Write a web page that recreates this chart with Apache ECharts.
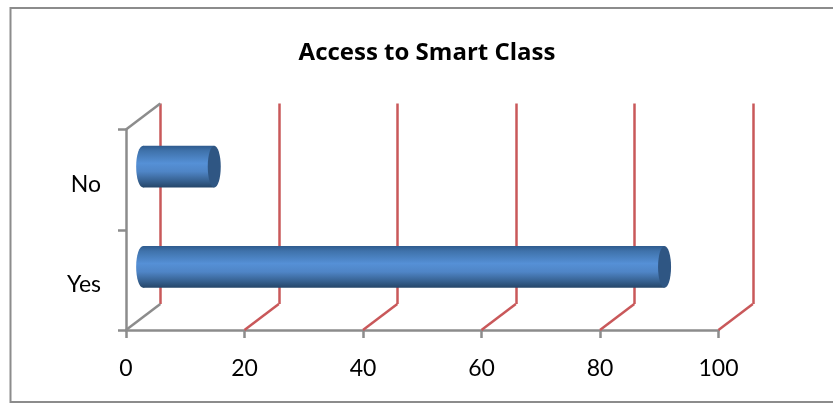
<!DOCTYPE html>
<html><head><meta charset="utf-8">
<style>html,body{margin:0;padding:0;background:#fff}#c{width:833px;height:406px}</style>
<script src="https://cdn.jsdelivr.net/npm/echarts@6/dist/echarts.min.js"></script>
</head><body><div id="c"></div>
<script>
const categories = ['Yes', 'No'];
const accessValues = [88, 12];
const xMin = 0, xMax = 100, xStep = 20;
const wallTicks = [0, 20, 40, 60, 80, 100];

const DX = 34.3, DY = -26;          // 3D depth offset
const front = {left:126, top:129.5, width:592.5, height:200.5};
const back  = {left:126+DX, top:129.5+DY, width:592.5, height:200.5};
const RED = '#c9585a', GRAY = '#8c8c8c';
const bodyGrad = {type:'linear',x:0,y:0,x2:0,y2:1,colorStops:[
  {offset:0,color:'#2f5b8e'},{offset:0.12,color:'#3f72ab'},{offset:0.42,color:'#5590d6'},
  {offset:0.62,color:'#4f85c6'},{offset:0.85,color:'#36608f'},{offset:1,color:'#254669'}]};

const xAxisBase = {type:'value',min:xMin,max:xMax,interval:xStep};
const chart = echarts.init(document.getElementById('c'),null,{renderer:'canvas'});
chart.setOption({
  animation:false,
  backgroundColor:'#fff',
  title:{text:'Access to Smart Class',left:422,top:36,textAlign:'center',
    textStyle:{fontFamily:'Open Sans',fontSize:24,fontWeight:'bold',color:'#000'}},
  graphic:[{type:'rect',z:-1,shape:{x:10.5,y:8,width:840,height:394},
    style:{fill:'#fff',stroke:'#8c8c8c',lineWidth:2}}],
  grid:[{...front},{...back}],
  xAxis:[
    {...xAxisBase,gridIndex:0,
      axisLine:{show:true,lineStyle:{color:GRAY,width:2.5}},
      axisTick:{show:true,length:8,lineStyle:{color:GRAY,width:2.5}},
      axisLabel:{show:true,margin:27,fontFamily:'Lato',fontSize:23,color:'#000',hideOverlap:false},
      splitLine:{show:false}},
    {...xAxisBase,gridIndex:1,axisLine:{show:false},axisTick:{show:false},axisLabel:{show:false},
      splitLine:{show:true,lineStyle:{color:RED,width:2.5}}}
  ],
  yAxis:[
    {type:'category',gridIndex:0,data:categories,
      axisLine:{show:true,lineStyle:{color:GRAY,width:2.5}},
      axisTick:{show:true,length:8,alignWithLabel:false,lineStyle:{color:GRAY,width:2.5}},
      axisLabel:{margin:25,formatter:'{t|{value}}',
        rich:{t:{fontFamily:'Lato',fontSize:23,color:'#000',padding:[10,0,0,0]}}},
      splitLine:{show:false}},
    {type:'category',gridIndex:1,data:categories,axisLine:{show:false},axisTick:{show:false},
      axisLabel:{show:false},splitLine:{show:false}}
  ],
  series:[
    {type:'custom',xAxisIndex:0,yAxisIndex:0,z:3,silent:true,
      coordinateSystem:'cartesian2d',
      data:wallTicks.map(v=>[v,0]),
      encode:{x:0,y:1},
      clip:false,
      renderItem(p,api){
        const v=api.value(0);
        const x=api.coord([v,0])[0];
        const yb=front.top+front.height, col=v===0?GRAY:RED;
        const kids=[{type:'line',shape:{x1:x,y1:yb,x2:x+DX,y2:yb+DY},style:{stroke:col,lineWidth:2.5}}];
        if(v===0) kids.push({type:'line',shape:{x1:x,y1:front.top,x2:x+DX,y2:front.top+DY},style:{stroke:col,lineWidth:2.5}});
        return {type:'group',children:kids};
      }},
    {type:'custom',xAxisIndex:0,yAxisIndex:0,z:5,silent:true,clip:false,
      coordinateSystem:'cartesian2d',
      data:accessValues.map((v,i)=>[v,i]),
      encode:{x:0,y:1},
      renderItem(p,api){
        const end=api.coord([api.value(0),api.value(1)]);
        const start=api.coord([0,api.value(1)]);
        const ox=DX/2, oy=DY/2, ry=20.8;
        const x0=start[0]+ox, x1=end[0]+ox, cy=end[1]+oy;
        return {type:'group',children:[
          {type:'ellipse',shape:{cx:x0,cy:cy,rx:7,ry:ry},style:{fill:bodyGrad}},
          {type:'rect',shape:{x:x0,y:cy-ry,width:x1-x0,height:ry*2},style:{fill:bodyGrad}},
          {type:'ellipse',shape:{cx:x1,cy:cy,rx:6.5,ry:ry},style:{fill:'#2f5683'}}
        ]};
      }}
  ]
});
</script></body></html>
